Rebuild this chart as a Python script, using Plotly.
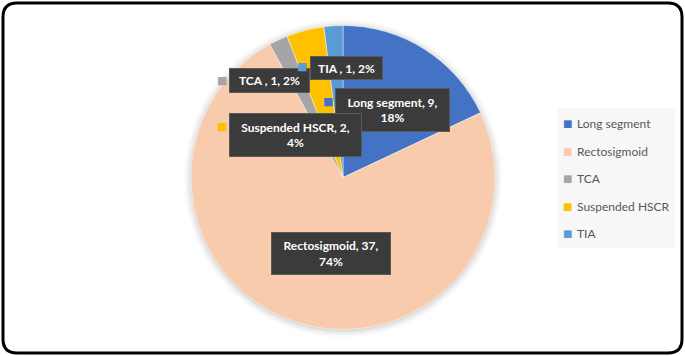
import plotly.graph_objects as go

# ---- data ----
categories = ["Long segment", "Rectosigmoid", "TCA", "Suspended HSCR", "TIA"]
values = [9, 37, 1, 2, 1]
colors = ["#4472C4", "#F8CBAD", "#A5A5A5", "#FFC000", "#5B9BD5"]
label_names = ["Long segment", "Rectosigmoid", "TCA ", "Suspended HSCR", "TIA "]
label_wrap = [True, True, False, True, False]

W, H = 685, 356
total = sum(values)


def px(x):
    return x / W


def py(y):
    return 1 - y / H


# pie geometry (pixels)
cx, cy, r = 343, 177.5, 152

fig = go.Figure()
fig.add_trace(go.Pie(
    labels=categories,
    values=values,
    marker=dict(colors=colors, line=dict(color="rgba(255,255,255,0.6)", width=0.75)),
    sort=False,
    direction="clockwise",
    rotation=0,
    textinfo="none",
    hoverinfo="label+value+percent",
    showlegend=False,
    domain=dict(x=[px(cx - r), px(cx + r)], y=[py(cy + r), py(cy - r)]),
))

shapes = []
# soft shadow behind pie
for i, a in enumerate([0.05, 0.04, 0.03, 0.02]):
    g = 1 + i * 2
    shapes.append(dict(type="circle", xref="paper", yref="paper", layer="below",
                       x0=px(cx - r - g), x1=px(cx + r + g),
                       y0=py(cy + r + g + 1), y1=py(cy - r - g + 1),
                       fillcolor=f"rgba(0,0,0,{a})", line=dict(width=0)))

# rounded outer border
x0, y0, x1, y1, rad = 3, 3, 682, 353, 14
path = (f"M {px(x0+rad)} {py(y0)} L {px(x1-rad)} {py(y0)} "
        f"Q {px(x1)} {py(y0)} {px(x1)} {py(y0+rad)} L {px(x1)} {py(y1-rad)} "
        f"Q {px(x1)} {py(y1)} {px(x1-rad)} {py(y1)} L {px(x0+rad)} {py(y1)} "
        f"Q {px(x0)} {py(y1)} {px(x0)} {py(y1-rad)} L {px(x0)} {py(y0+rad)} "
        f"Q {px(x0)} {py(y0)} {px(x0+rad)} {py(y0)} Z")
shapes.append(dict(type="path", xref="paper", yref="paper", path=path,
                   line=dict(color="black", width=3), layer="above"))

# legend background
lg_x0, lg_y0, lg_x1, lg_y1 = 558, 108, 675, 248
shapes.append(dict(type="rect", xref="paper", yref="paper", layer="below",
                   x0=px(lg_x0), x1=px(lg_x1), y0=py(lg_y1), y1=py(lg_y0),
                   fillcolor="#F7F7F7", line=dict(width=0)))

annotations = []
# data label boxes: (center x, center y, width, height) in pixels, and marker position
label_boxes = {
    "Long segment": (392.5, 110, 115, 44, (328, 102)),
    "Rectosigmoid": (331, 253.5, 120, 43, None),
    "TCA": (269.5, 80.5, 81, 25, (222, 80)),
    "Suspended HSCR": (295.5, 135, 133, 44, (222, 127)),
    "TIA": (346.5, 68, 73, 24, (302, 67)),
}
draw_order = ["Rectosigmoid", "Long segment", "Suspended HSCR", "TCA", "TIA"]
for cat in draw_order:
    i = categories.index(cat)
    pct = round(values[i] / total * 100)
    sep = ",<br>" if label_wrap[i] else ", "
    text = f"<b>{label_names[i]}, {values[i]}{sep}{pct}%</b>"
    bx, by, bw, bh, mk = label_boxes[cat]
    if mk is not None:
        annotations.append(dict(xref="paper", yref="paper", x=px(mk[0]), y=py(mk[1]),
                                text="■", showarrow=False, xanchor="center", yanchor="middle",
                                font=dict(size=11, color=colors[i], family="DejaVu Sans")))
    annotations.append(dict(xref="paper", yref="paper", x=px(bx), y=py(by),
                            text=text, showarrow=False, xanchor="center", yanchor="middle",
                            width=bw - 2, height=bh - 2, borderpad=0,
                            bgcolor="#3B3B3B", bordercolor="#5A5A5A", borderwidth=1,
                            align="center", valign="middle",
                            font=dict(size=12, color="white", family="Lato")))

# manual legend entries
leg_ys = [124, 151, 179, 206, 233]
for i, cat in enumerate(categories):
    annotations.append(dict(xref="paper", yref="paper", x=px(567), y=py(leg_ys[i]),
                            text="■", showarrow=False, xanchor="center", yanchor="middle",
                            font=dict(size=10, color=colors[i], family="DejaVu Sans")))
    annotations.append(dict(xref="paper", yref="paper", x=px(575), y=py(leg_ys[i]),
                            text=cat, showarrow=False, xanchor="left", yanchor="middle",
                            font=dict(size=12, color="#595959", family="Lato")))

fig.update_layout(
    width=W, height=H,
    margin=dict(l=0, r=0, t=0, b=0),
    paper_bgcolor="white",
    plot_bgcolor="white",
    shapes=shapes,
    annotations=annotations,
    showlegend=False,
)

fig.write_html("out.html",
               config={"displayModeBar": False},
               post_script="document.body.style.margin='0';document.body.style.overflow='hidden';")
